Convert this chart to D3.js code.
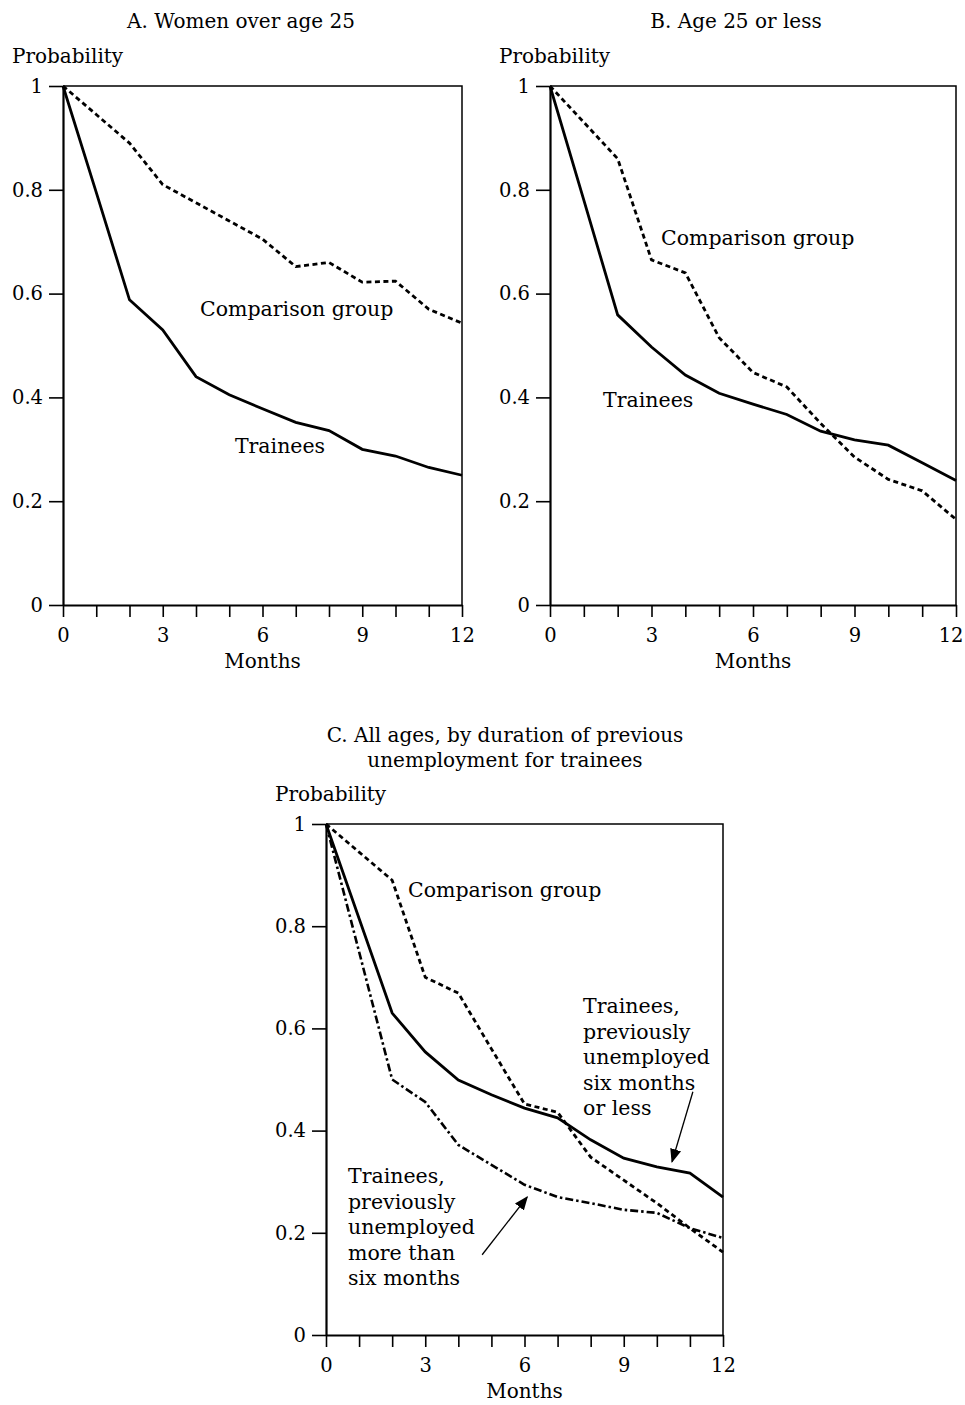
<!DOCTYPE html>
<html>
<head>
<meta charset="utf-8">
<script src="https://cdn.jsdelivr.net/npm/d3@7"></script>
<style>
  body { margin: 0; background: #fff; }
  text { font-family: "DejaVu Serif", serif; fill: #000; }
</style>
</head>
<body>
<div id="chart"></div>
<script>
// data (probability of still being unemployed)
const months = [0, 1, 2, 3, 4, 5, 6, 7, 8, 9, 10, 11, 12];
const monthLabels = [0, 3, 6, 9, 12];
const probTicks = [0, 0.2, 0.4, 0.6, 0.8, 1];

// A. Women over age 25
const aComparison = [1, 0.945, 0.89, 0.81, 0.775, 0.74, 0.705, 0.652, 0.66, 0.622, 0.624, 0.57, 0.543];
const aTrainees = [1, 0.795, 0.588, 0.53, 0.44, 0.405, 0.378, 0.352, 0.336, 0.3, 0.287, 0.265, 0.25];

// B. Age 25 or less
const bComparison = [1, 0.93, 0.86, 0.665, 0.64, 0.515, 0.448, 0.42, 0.35, 0.285, 0.242, 0.22, 0.165];
const bTrainees = [1, 0.78, 0.559, 0.497, 0.443, 0.408, 0.387, 0.367, 0.335, 0.318, 0.308, 0.274, 0.24];

// C. All ages, by previous unemployment
const cComparison = [1, 0.945, 0.89, 0.70, 0.669, 0.56, 0.452, 0.436, 0.348, 0.303, 0.258, 0.209, 0.162];
const cTraineesShort = [1, 0.815, 0.63, 0.554, 0.499, 0.47, 0.444, 0.425, 0.382, 0.346, 0.329, 0.317, 0.27];
const cTraineesLong = [1, 0.75, 0.50, 0.456, 0.372, 0.333, 0.294, 0.27, 0.258, 0.245, 0.239, 0.209, 0.19];

const svg = d3.select("#chart")
    .append("svg")
    .attr("width", 965)
    .attr("height", 1405);

const defs = svg.append("defs");
defs.append("marker")
    .attr("id", "arrow")
    .attr("viewBox", "0 0 10 10")
    .attr("refX", 9)
    .attr("refY", 5)
    .attr("markerWidth", 14)
    .attr("markerHeight", 14)
    .attr("markerUnits", "userSpaceOnUse")
    .attr("orient", "auto")
    .append("path")
    .attr("d", "M0,1 L10,5 L0,9 Z")
    .attr("fill", "#000");

const styles = {
    solid: { dash: null, width: 2.8 },
    dashed: { dash: "5,3.5", width: 2.8 },
    dashdot: { dash: "8,3,2.5,3", width: 2.6 }
};

function drawPanel(p) {
    const x = d3.scaleLinear().domain([0, 12]).range([p.left, p.right]);
    const y = d3.scaleLinear().domain([0, 1]).range([p.bottom, p.top]);
    const g = svg.append("g");

    // frame (top and right)
    g.append("path")
        .attr("d", `M${x(0)},${y(1)} H${x(12)} V${y(0)}`)
        .attr("fill", "none")
        .attr("stroke", "#000")
        .attr("stroke-width", 1.5);

    // x axis
    const xAxis = g.append("g")
        .attr("transform", `translate(0,${y(0)})`)
        .call(d3.axisBottom(x)
            .tickValues(months)
            .tickSize(12)
            .tickSizeOuter(0)
            .tickPadding(11)
            .tickFormat(d => monthLabels.includes(d) ? d : ""));

    // y axis
    const yAxis = g.append("g")
        .attr("transform", `translate(${x(0)},0)`)
        .call(d3.axisLeft(y)
            .tickValues(probTicks)
            .tickSize(14)
            .tickSizeOuter(0)
            .tickPadding(6)
            .tickFormat(d => String(d)));

    [xAxis, yAxis].forEach(a => {
        a.selectAll("path.domain").attr("stroke-width", 2.2);
        a.selectAll(".tick line").attr("stroke-width", 1.6);
        a.selectAll("text")
            .style("font-family", "'DejaVu Serif', serif")
            .style("font-size", "19.5px")
            .attr("fill", "#000");
    });

    // last month label sits against the page edge in panel B
    if (p.pinLastLabel) {
        xAxis.selectAll(".tick text")
            .filter(d => d === 12)
            .attr("text-anchor", "end")
            .attr("x", 7);
    }

    // series
    const line = d3.line()
        .x((d, i) => x(months[i]))
        .y(d => y(d));

    p.series.forEach(s => {
        g.append("path")
            .datum(s.values)
            .attr("fill", "none")
            .attr("stroke", "#000")
            .attr("stroke-width", styles[s.style].width)
            .attr("stroke-dasharray", styles[s.style].dash)
            .attr("stroke-linejoin", "miter")
            .attr("d", line);
    });

    // titles
    const title = g.append("text")
        .attr("x", p.titleX)
        .attr("y", p.titleY)
        .attr("text-anchor", "middle")
        .style("font-size", "20px");
    p.title.forEach((t, i) => {
        title.append("tspan")
            .attr("x", p.titleX)
            .attr("dy", i === 0 ? 0 : 25)
            .text(t);
    });

    g.append("text")
        .attr("x", p.left - 51)
        .attr("y", y(1) - 23)
        .style("font-size", "20px")
        .text("Probability");

    g.append("text")
        .attr("x", (p.left + p.right) / 2)
        .attr("y", y(0) + 63)
        .attr("text-anchor", "middle")
        .style("font-size", "20px")
        .text("Months");

    // annotations
    p.labels.forEach(l => {
        const t = g.append("text")
            .attr("x", x(l.month))
            .attr("y", y(l.value))
            .style("font-size", "20.5px");
        l.lines.forEach((s, i) => {
            t.append("tspan")
                .attr("x", x(l.month))
                .attr("dy", i === 0 ? 0 : 25.5)
                .text(s);
        });
    });

    (p.arrows || []).forEach(a => {
        g.append("line")
            .attr("x1", x(a.from[0]))
            .attr("y1", y(a.from[1]))
            .attr("x2", x(a.to[0]))
            .attr("y2", y(a.to[1]))
            .attr("stroke", "#000")
            .attr("stroke-width", 1.3)
            .attr("marker-end", "url(#arrow)");
    });
}

drawPanel({
    left: 63, right: 462, top: 86, bottom: 605,
    title: ["A. Women over age 25"], titleX: 241, titleY: 28,
    series: [
        { values: aComparison, style: "dashed" },
        { values: aTrainees, style: "solid" }
    ],
    labels: [
        { month: 4.12, value: 0.557, lines: ["Comparison group"] },
        { month: 5.17, value: 0.293, lines: ["Trainees"] }
    ]
});

drawPanel({
    left: 550, right: 956, top: 86, bottom: 605,
    title: ["B. Age 25 or less"], titleX: 736, titleY: 28,
    pinLastLabel: true,
    series: [
        { values: bComparison, style: "dashed" },
        { values: bTrainees, style: "solid" }
    ],
    labels: [
        { month: 3.28, value: 0.694, lines: ["Comparison group"] },
        { month: 1.57, value: 0.381, lines: ["Trainees"] }
    ]
});

drawPanel({
    left: 326, right: 723, top: 824, bottom: 1335,
    title: ["C. All ages, by duration of previous", "unemployment for trainees"], titleX: 505, titleY: 742,
    series: [
        { values: cComparison, style: "dashed" },
        { values: cTraineesShort, style: "solid" },
        { values: cTraineesLong, style: "dashdot" }
    ],
    labels: [
        { month: 2.48, value: 0.857, lines: ["Comparison group"] },
        { month: 7.77, value: 0.630, lines: ["Trainees,", "previously", "unemployed", "six months", "or less"] },
        { month: 0.665, value: 0.297, lines: ["Trainees,", "previously", "unemployed", "more than", "six months"] }
    ],
    arrows: [
        { from: [11.09, 0.476], to: [10.46, 0.339] },
        { from: [4.72, 0.157], to: [6.08, 0.27] }
    ]
});
</script>
</body>
</html>
